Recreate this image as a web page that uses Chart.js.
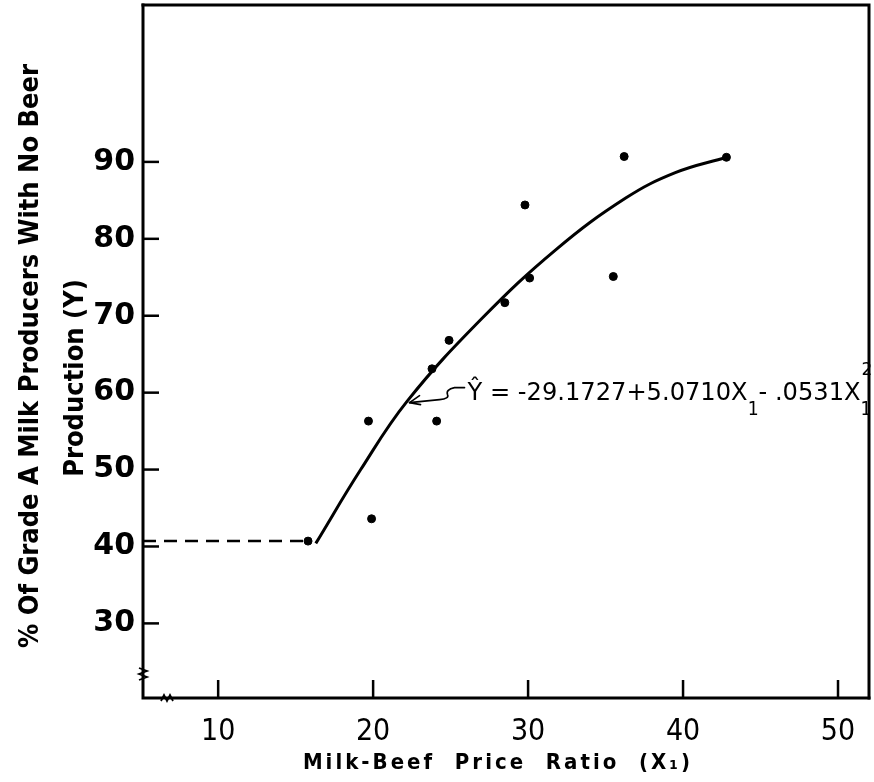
<!DOCTYPE html>
<html>
<head>
<meta charset="utf-8">
<script src="https://cdn.jsdelivr.net/npm/chart.js@4.4.1/dist/chart.umd.min.js"></script>
<style>
  html, body { margin: 0; padding: 0; background: #fff; }
  #wrap { width: 874px; height: 782px; }
</style>
</head>
<body>
<div id="wrap"><canvas id="chart"></canvas></div>
<script>
// observed county points (X1 = milk-beef price ratio, Y = % with no beef production)
const obsX = [15.8, 19.7, 19.9, 23.8, 24.1, 24.9, 28.5, 29.8, 30.1, 35.5, 36.2, 42.8];
const obsY = [40.7, 56.3, 43.6, 63.1, 56.3, 66.8, 71.7, 84.4, 74.9, 75.1, 90.7, 90.6];

// fitted curve
const fitX = [16.3, 19.2, 22.2, 27.0, 31.8, 36.3, 39.5, 42.8];
const fitY = [40.4, 50.0, 58.9, 69.6, 78.6, 85.3, 88.6, 90.6];

// dashed floor line
const floorX = [5.15, 15.8];
const floorY = [40.7, 40.7];

const xTicks = [10, 20, 30, 40, 50];
const yTicks = [30, 40, 50, 60, 70, 80, 90];

const xTitle = 'Milk-Beef  Price  Ratio  (X₁)';
const yTitle = ['% Of Grade A Milk Producers With No Beer', 'Production (Y)'];
const eqAnchor = { x: 22.35, y: 58.7 };   // where the arrow touches the curve

const toPts = (xs, ys) => xs.map((x, i) => ({ x, y: ys[i] }));

// frame, inside tick marks, axis breaks, titles, equation
const decor = {
  id: 'decor',
  afterDraw(chart) {
    const { ctx, chartArea: a, scales: { x, y } } = chart;
    ctx.save();
    ctx.strokeStyle = '#000';
    ctx.fillStyle = '#000';
    ctx.lineCap = 'square';

    // box
    ctx.lineWidth = 3;
    ctx.beginPath();
    ctx.moveTo(a.left, a.top); ctx.lineTo(a.right, a.top); ctx.lineTo(a.right, a.bottom);
    ctx.stroke();
    ctx.beginPath();
    ctx.moveTo(a.left, a.top); ctx.lineTo(a.left, a.bottom); ctx.lineTo(a.right, a.bottom);
    ctx.stroke();

    // inward ticks
    ctx.lineWidth = 2.5;
    ctx.lineCap = 'butt';
    yTicks.forEach(v => {
      const py = y.getPixelForValue(v);
      ctx.beginPath(); ctx.moveTo(a.left, py); ctx.lineTo(a.left + 16, py); ctx.stroke();
    });
    xTicks.forEach(v => {
      const px = x.getPixelForValue(v);
      ctx.beginPath(); ctx.moveTo(px, a.bottom); ctx.lineTo(px, a.bottom - 18); ctx.stroke();
    });

    // axis breaks
    ctx.lineWidth = 1.8;
    ctx.beginPath();
    const by = a.bottom - 24;
    ctx.moveTo(a.left - 4, by - 6);
    ctx.lineTo(a.left + 4, by - 3);
    ctx.lineTo(a.left - 4, by);
    ctx.lineTo(a.left + 4, by + 3);
    ctx.lineTo(a.left - 4, by + 6);
    ctx.stroke();
    ctx.beginPath();
    const bx = a.left + 24;
    ctx.moveTo(bx - 6, a.bottom + 3);
    ctx.lineTo(bx - 3, a.bottom - 3);
    ctx.lineTo(bx, a.bottom + 3);
    ctx.lineTo(bx + 3, a.bottom - 3);
    ctx.lineTo(bx + 6, a.bottom + 3);
    ctx.stroke();

    // y title (two rotated lines)
    ctx.textAlign = 'center';
    ctx.textBaseline = 'middle';
    ctx.font = "bold 27px 'DejaVu Sans Condensed'";
    ctx.save();
    ctx.translate(31, 356); ctx.rotate(-Math.PI / 2);
    ctx.fillText(yTitle[0], 0, 0);
    ctx.restore();
    ctx.save();
    ctx.translate(76, 378); ctx.rotate(-Math.PI / 2);
    ctx.fillText(yTitle[1], 0, 0);
    ctx.restore();

    // x title
    ctx.font = "bold 22px 'DejaVu Sans Condensed'";
    ctx.textBaseline = 'alphabetic';
    if ('letterSpacing' in ctx) ctx.letterSpacing = '3px';
    ctx.fillText(xTitle, 498, 769);
    if ('letterSpacing' in ctx) ctx.letterSpacing = '0px';

    // equation arrow
    const tx = x.getPixelForValue(eqAnchor.x);
    const ty = y.getPixelForValue(eqAnchor.y);
    ctx.lineWidth = 1.6;
    ctx.lineCap = 'round';
    ctx.beginPath();
    ctx.moveTo(tx, ty);
    ctx.lineTo(tx + 30, ty - 3);
    ctx.quadraticCurveTo(tx + 40, ty - 4, tx + 38, ty - 8);
    ctx.quadraticCurveTo(tx + 36, ty - 13, tx + 45, ty - 15);
    ctx.lineTo(tx + 55, ty - 15);
    ctx.stroke();
    ctx.beginPath();
    ctx.moveTo(tx, ty); ctx.lineTo(tx + 10, ty - 7);
    ctx.moveTo(tx, ty); ctx.lineTo(tx + 11, ty + 2);
    ctx.stroke();

    // equation text
    const big = "24px 'DejaVu Sans'";
    const small = "19px 'DejaVu Sans Condensed'";
    const parts = [
      ['Ŷ = -29.1727+5.0710X', big, 0],
      ['1', small, 15],
      ['- .0531X', big, 0],
      ['1', small, 15]
    ];
    ctx.textAlign = 'left';
    ctx.textBaseline = 'alphabetic';
    let w = 0;
    parts.forEach(p => { ctx.font = p[1]; w += ctx.measureText(p[0]).width; });
    const x0 = tx + 58, base = ty - 3;
    const sx = 404 / w;
    ctx.save();
    ctx.translate(x0, base);
    ctx.scale(sx, 1);
    let cx = 0;
    parts.forEach(p => {
      ctx.font = p[1];
      ctx.fillText(p[0], cx, p[2]);
      cx += ctx.measureText(p[0]).width;
    });
    ctx.font = "17px 'DejaVu Sans'";
    ctx.fillText('2', cx - 10, -25);
    ctx.restore();

    ctx.restore();
  }
};

new Chart(document.getElementById('chart'), {
  type: 'scatter',
  data: {
    datasets: [
      {
        label: 'floor',
        data: toPts(floorX, floorY),
        showLine: true,
        borderColor: '#000',
        borderWidth: 2.5,
        borderDash: [13, 8],
        pointRadius: 0
      },
      {
        label: 'fit',
        data: toPts(fitX, fitY),
        showLine: true,
        borderColor: '#000',
        borderWidth: 3,
        tension: 0.4,
        pointRadius: 0
      },
      {
        label: 'observed',
        data: toPts(obsX, obsY),
        backgroundColor: '#000',
        borderColor: '#000',
        pointRadius: 4,
        pointHoverRadius: 4
      }
    ]
  },
  options: {
    responsive: true,
    maintainAspectRatio: false,
    animation: false,
    events: [],
    layout: { padding: { top: 5, right: 5, left: 0, bottom: 0 } },
    plugins: { legend: { display: false }, tooltip: { enabled: false } },
    scales: {
      x: {
        type: 'linear',
        min: 5.15,
        max: 52,
        afterBuildTicks: s => { s.ticks = xTicks.map(v => ({ value: v })); },
        afterFit: s => { s.height = 84; s.paddingLeft = 0; s.paddingRight = 0; },
        grid: { display: false, drawTicks: false },
        border: { display: false },
        ticks: {
          color: '#000',
          padding: 16,
          font: { family: "'DejaVu Sans Condensed'", size: 30 }
        }
      },
      y: {
        type: 'linear',
        min: 20.3,
        max: 110.4,
        afterBuildTicks: s => { s.ticks = yTicks.map(v => ({ value: v })); },
        afterFit: s => { s.width = 143; s.paddingTop = 0; s.paddingBottom = 0; },
        grid: { display: false, drawTicks: false },
        border: { display: false },
        ticks: {
          color: '#000',
          padding: 8,
          font: { family: "'DejaVu Sans'", size: 30, weight: 'bold' }
        }
      }
    }
  },
  plugins: [decor]
});
</script>
</body>
</html>
